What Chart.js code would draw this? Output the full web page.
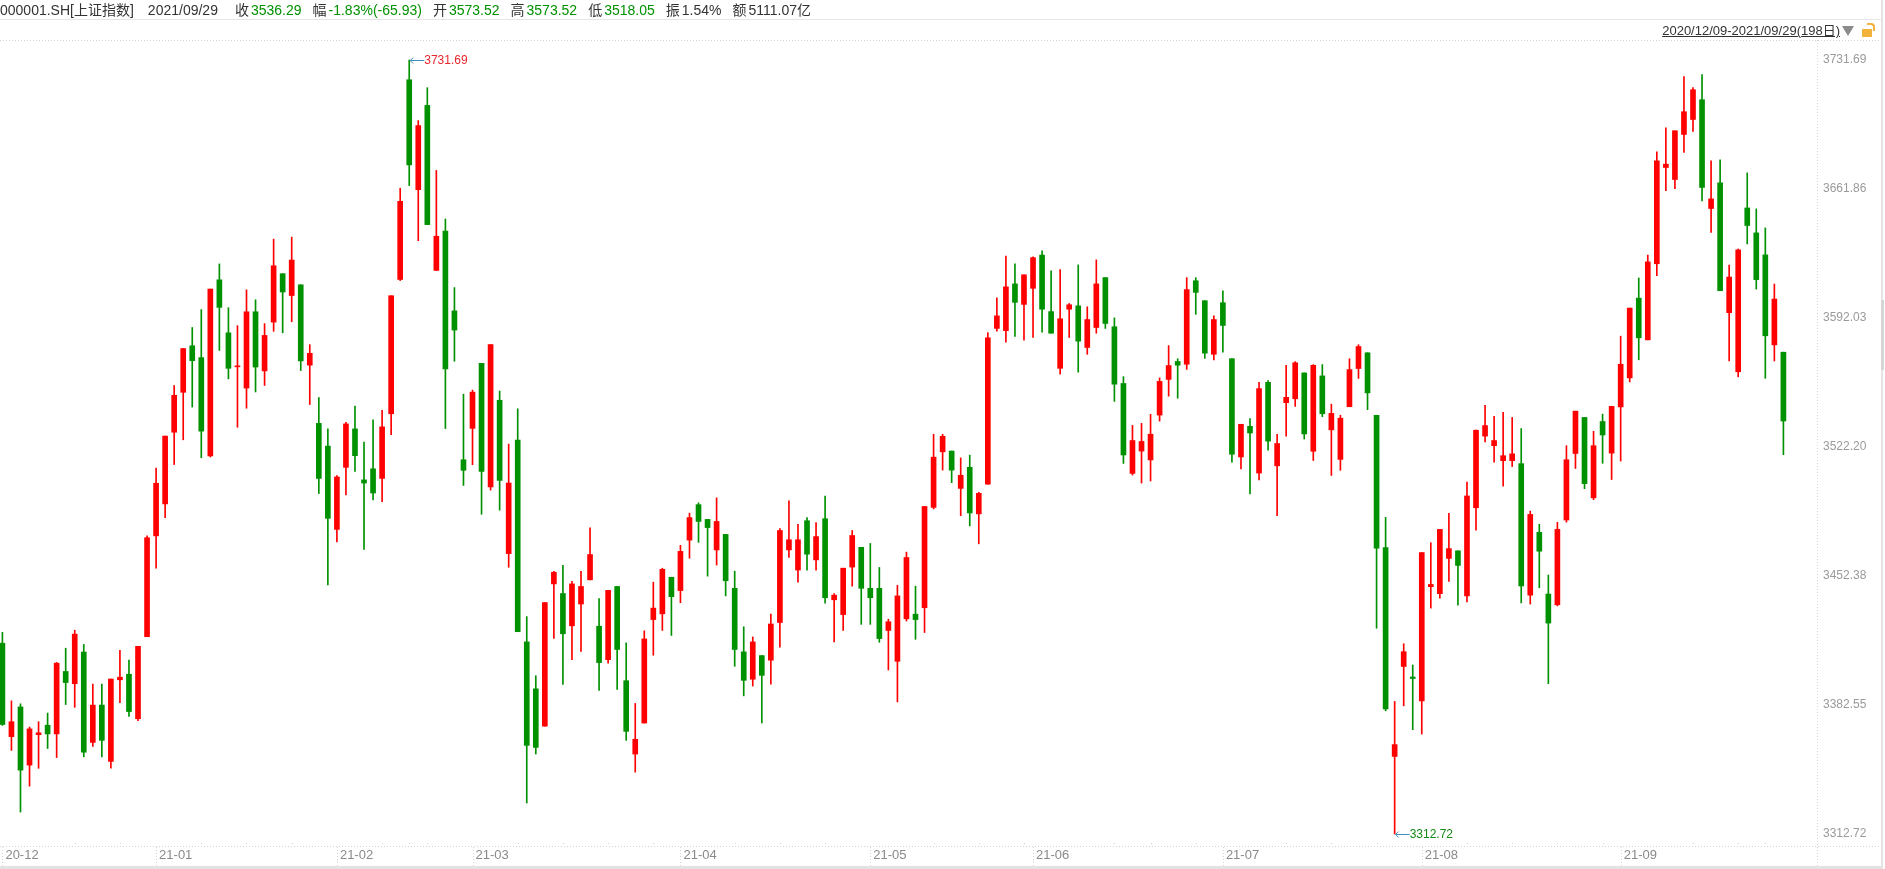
<!DOCTYPE html>
<html>
<head>
<meta charset="utf-8">
<title>000001.SH 上证指数</title>
<script src="https://cdn.jsdelivr.net/npm/chart.js@4/dist/chart.umd.min.js"></script>
<style>
  html, body { margin: 0; padding: 0; background: #fff; overflow: hidden; }
  body { width: 1885px; height: 869px; position: relative; font-family: "Liberation Sans", Arial, "Noto Sans CJK SC", sans-serif; }
  #kline { position: absolute; left: 0; top: 0; }
  .header { position: absolute; left: 0; top: 0; width: 1881px; height: 19px; border-bottom: 1px solid #e6e6e6; font-size: 14px; line-height: 20px; color: #333; white-space: nowrap; }
  .header span { display: inline-block; }
  .header .lab { margin-right: 2px; }
  .header .val { margin-right: 11px; }
  .header .down { color: #009100; }
  .range { position: absolute; right: 45px; top: 24px; font-size: 13px; line-height: 14px; color: #333; text-decoration: underline; white-space: nowrap; }
  .tri { position: absolute; left: 1842px; top: 26px; width: 0; height: 0; border-left: 6.5px solid transparent; border-right: 6.5px solid transparent; border-top: 10px solid #8c8c8c; }
  .lock { position: absolute; left: 1862px; top: 29px; width: 10px; height: 8px; background: #f2b33d; }
  .shackle { position: absolute; left: 1867px; top: 23px; width: 6px; height: 6px; border: 2px solid #f2b33d; border-bottom: none; border-left: none; border-radius: 0 4px 0 0; }
  .edge { position: absolute; left: 1881px; top: 0; width: 2px; height: 869px; background: #e4e4e4; }
  .thumb { position: absolute; left: 1881px; top: 300px; width: 3px; height: 70px; background: #d6d6d6; }
</style>
</head>
<body>
<canvas id="kline" width="1885" height="869"></canvas>
<div class="header">
  <span style="margin-right:14px">000001.SH[上证指数]</span><span style="margin-right:17px">2021/09/29</span><span class="lab">收</span><span class="val down">3536.29</span><span class="lab">幅</span><span class="val down">-1.83%(-65.93)</span><span class="lab">开</span><span class="val down">3573.52</span><span class="lab">高</span><span class="val down">3573.52</span><span class="lab">低</span><span class="val down">3518.05</span><span class="lab">振</span><span class="val">1.54%</span><span class="lab">额</span><span class="val">5111.07亿</span>
</div>
<div class="range">2020/12/09-2021/09/29(198日)</div>
<div class="tri"></div>
<div class="shackle"></div>
<div class="lock"></div>
<div class="edge"></div>
<div class="thumb"></div>
<script>
// trading days, 2020/12/09 - 2021/09/29
const dates = [
  '2020-12-09','2020-12-10','2020-12-11','2020-12-14','2020-12-15','2020-12-16','2020-12-17','2020-12-18','2020-12-21','2020-12-22',
  '2020-12-23','2020-12-24','2020-12-25','2020-12-28','2020-12-29','2020-12-30','2020-12-31','2021-01-04','2021-01-05','2021-01-06',
  '2021-01-07','2021-01-08','2021-01-11','2021-01-12','2021-01-13','2021-01-14','2021-01-15','2021-01-18','2021-01-19','2021-01-20',
  '2021-01-21','2021-01-22','2021-01-25','2021-01-26','2021-01-27','2021-01-28','2021-01-29','2021-02-01','2021-02-02','2021-02-03',
  '2021-02-04','2021-02-05','2021-02-08','2021-02-09','2021-02-10','2021-02-18','2021-02-19','2021-02-22','2021-02-23','2021-02-24',
  '2021-02-25','2021-02-26','2021-03-01','2021-03-02','2021-03-03','2021-03-04','2021-03-05','2021-03-08','2021-03-09','2021-03-10',
  '2021-03-11','2021-03-12','2021-03-15','2021-03-16','2021-03-17','2021-03-18','2021-03-19','2021-03-22','2021-03-23','2021-03-24',
  '2021-03-25','2021-03-26','2021-03-29','2021-03-30','2021-03-31','2021-04-01','2021-04-02','2021-04-06','2021-04-07','2021-04-08',
  '2021-04-09','2021-04-12','2021-04-13','2021-04-14','2021-04-15','2021-04-16','2021-04-19','2021-04-20','2021-04-21','2021-04-22',
  '2021-04-23','2021-04-26','2021-04-27','2021-04-28','2021-04-29','2021-04-30','2021-05-06','2021-05-07','2021-05-10','2021-05-11',
  '2021-05-12','2021-05-13','2021-05-14','2021-05-17','2021-05-18','2021-05-19','2021-05-20','2021-05-21','2021-05-24','2021-05-25',
  '2021-05-26','2021-05-27','2021-05-28','2021-05-31','2021-06-01','2021-06-02','2021-06-03','2021-06-04','2021-06-07','2021-06-08',
  '2021-06-09','2021-06-10','2021-06-11','2021-06-15','2021-06-16','2021-06-17','2021-06-18','2021-06-21','2021-06-22','2021-06-23',
  '2021-06-24','2021-06-25','2021-06-28','2021-06-29','2021-06-30','2021-07-01','2021-07-02','2021-07-05','2021-07-06','2021-07-07',
  '2021-07-08','2021-07-09','2021-07-12','2021-07-13','2021-07-14','2021-07-15','2021-07-16','2021-07-19','2021-07-20','2021-07-21',
  '2021-07-22','2021-07-23','2021-07-26','2021-07-27','2021-07-28','2021-07-29','2021-07-30','2021-08-02','2021-08-03','2021-08-04',
  '2021-08-05','2021-08-06','2021-08-09','2021-08-10','2021-08-11','2021-08-12','2021-08-13','2021-08-16','2021-08-17','2021-08-18',
  '2021-08-19','2021-08-20','2021-08-23','2021-08-24','2021-08-25','2021-08-26','2021-08-27','2021-08-30','2021-08-31','2021-09-01',
  '2021-09-02','2021-09-03','2021-09-06','2021-09-07','2021-09-08','2021-09-09','2021-09-10','2021-09-13','2021-09-14','2021-09-15',
  '2021-09-16','2021-09-17','2021-09-22','2021-09-23','2021-09-24','2021-09-27','2021-09-28','2021-09-29'
];

const opens = [
  3416.0, 3365.4, 3381.5, 3350.0, 3366.5, 3371.6, 3366.9, 3400.7, 3394.1, 3411.2,
  3362.3, 3382.5, 3352.0, 3396.2, 3399.2, 3375.1, 3419.5, 3474.1, 3491.4, 3530.2,
  3551.8, 3577.0, 3570.6, 3517.4, 3612.7, 3584.0, 3565.6, 3554.1, 3595.4, 3563.4,
  3589.8, 3616.0, 3604.2, 3610.0, 3566.5, 3535.0, 3522.7, 3477.6, 3511.2, 3532.0,
  3504.4, 3510.4, 3505.2, 3540.2, 3612.9, 3721.0, 3661.5, 3707.1, 3617.8, 3639.1,
  3595.9, 3515.3, 3532.3, 3567.5, 3500.6, 3547.5, 3464.5, 3526.0, 3416.7, 3391.3,
  3371.1, 3448.1, 3442.9, 3425.4, 3437.2, 3450.3, 3425.2, 3407.1, 3446.7, 3395.7,
  3356.0, 3372.8, 3428.8, 3431.9, 3451.7, 3444.5, 3471.8, 3491.0, 3483.0, 3466.5,
  3474.9, 3445.7, 3411.3, 3396.5, 3409.3, 3406.8, 3427.2, 3466.5, 3455.6, 3482.3,
  3461.1, 3483.4, 3439.5, 3431.5, 3457.2, 3467.9, 3445.7, 3445.7, 3422.9, 3406.2,
  3429.2, 3431.7, 3435.2, 3489.5, 3519.6, 3520.0, 3499.8, 3511.2, 3486.0, 3502.1,
  3586.4, 3585.2, 3610.5, 3599.4, 3608.1, 3626.1, 3595.5, 3564.8, 3596.8, 3598.6,
  3576.1, 3586.9, 3613.9, 3587.3, 3556.6, 3507.9, 3520.0, 3515.2, 3539.5, 3558.8,
  3568.5, 3567.0, 3612.2, 3601.4, 3572.4, 3600.3, 3570.0, 3516.8, 3533.4, 3508.1,
  3557.2, 3512.0, 3546.2, 3548.3, 3562.3, 3519.9, 3560.7, 3531.5, 3515.5, 3544.0,
  3564.7, 3573.2, 3539.4, 3467.8, 3354.7, 3403.4, 3397.7, 3384.7, 3446.6, 3442.8,
  3461.9, 3466.0, 3441.6, 3489.3, 3528.1, 3522.9, 3514.8, 3514.8, 3513.2, 3442.0,
  3476.0, 3442.6, 3436.8, 3482.7, 3518.7, 3538.2, 3494.7, 3536.0, 3518.9, 3543.9,
  3559.6, 3602.8, 3580.2, 3621.4, 3673.5, 3667.0, 3691.4, 3699.5, 3710.2, 3651.3,
  3665.2, 3594.9, 3562.9, 3651.6, 3638.1, 3626.2, 3577.5, 3573.52
];

const highs = [
  3421.9, 3384.8, 3383.2, 3370.6, 3373.5, 3378.2, 3405.6, 3413.3, 3423.0, 3415.3,
  3393.9, 3393.9, 3396.6, 3412.2, 3406.9, 3414.3, 3474.1, 3510.8, 3528.1, 3555.5,
  3575.5, 3586.9, 3596.6, 3607.7, 3621.3, 3597.6, 3587.9, 3607.3, 3601.9, 3589.0,
  3634.7, 3616.0, 3635.8, 3610.0, 3577.6, 3549.0, 3532.0, 3506.8, 3535.5, 3544.3,
  3524.9, 3536.9, 3542.1, 3604.1, 3662.3, 3731.69, 3698.9, 3716.7, 3671.9, 3645.6,
  3608.5, 3550.8, 3553.0, 3567.5, 3577.6, 3552.5, 3523.8, 3542.9, 3430.4, 3398.4,
  3438.0, 3454.9, 3458.2, 3449.5, 3454.9, 3478.4, 3440.2, 3444.6, 3446.7, 3416.2,
  3383.4, 3422.7, 3449.0, 3456.6, 3451.7, 3469.0, 3486.4, 3492.0, 3483.0, 3494.7,
  3474.9, 3455.0, 3424.9, 3419.4, 3409.3, 3431.7, 3478.0, 3493.0, 3480.3, 3484.0,
  3481.3, 3495.7, 3442.8, 3456.6, 3477.0, 3467.9, 3470.0, 3457.0, 3429.0, 3447.3,
  3465.3, 3446.9, 3490.0, 3529.1, 3529.1, 3520.0, 3516.3, 3517.8, 3497.7, 3584.1,
  3602.9, 3625.6, 3621.3, 3615.4, 3625.2, 3628.4, 3617.6, 3618.2, 3599.9, 3620.8,
  3598.1, 3623.5, 3613.9, 3592.1, 3560.3, 3533.9, 3535.0, 3539.9, 3559.6, 3577.1,
  3570.0, 3613.9, 3613.9, 3601.4, 3593.2, 3606.8, 3570.0, 3534.5, 3537.6, 3557.2,
  3558.1, 3529.1, 3566.4, 3568.4, 3562.3, 3566.8, 3566.8, 3545.4, 3539.4, 3570.0,
  3577.6, 3573.2, 3539.4, 3484.1, 3384.5, 3415.7, 3404.2, 3465.0, 3470.4, 3477.6,
  3486.3, 3466.0, 3503.2, 3531.3, 3544.8, 3538.8, 3541.0, 3538.2, 3532.2, 3487.5,
  3480.4, 3452.9, 3481.4, 3522.9, 3541.6, 3538.2, 3530.7, 3540.0, 3544.2, 3582.2,
  3597.4, 3613.7, 3626.1, 3682.0, 3695.0, 3693.4, 3722.7, 3716.7, 3723.8, 3677.1,
  3677.7, 3620.7, 3629.4, 3670.6, 3651.1, 3640.8, 3610.4, 3573.52
];

const lows = [
  3371.5, 3358.0, 3324.6, 3338.6, 3348.3, 3359.0, 3354.1, 3382.8, 3381.3, 3354.5,
  3360.1, 3354.5, 3348.3, 3383.8, 3376.4, 3374.1, 3419.5, 3456.6, 3484.0, 3512.7,
  3526.1, 3543.8, 3516.4, 3516.8, 3574.5, 3559.1, 3532.9, 3543.2, 3552.0, 3555.5,
  3584.8, 3584.0, 3590.0, 3563.6, 3545.2, 3497.0, 3447.6, 3470.8, 3496.2, 3509.0,
  3466.7, 3493.5, 3492.6, 3528.9, 3612.3, 3663.7, 3633.9, 3642.6, 3617.8, 3532.2,
  3568.6, 3501.4, 3512.6, 3485.8, 3498.9, 3488.0, 3457.1, 3422.2, 3329.5, 3356.0,
  3371.1, 3418.6, 3393.7, 3407.1, 3411.5, 3450.3, 3390.5, 3405.2, 3391.0, 3363.4,
  3346.2, 3372.8, 3409.5, 3422.9, 3420.2, 3437.9, 3462.0, 3470.6, 3452.3, 3458.3,
  3441.6, 3403.5, 3387.5, 3392.8, 3372.8, 3393.8, 3413.8, 3462.4, 3449.0, 3455.6,
  3455.6, 3437.7, 3416.7, 3422.9, 3446.9, 3426.2, 3426.2, 3416.5, 3401.5, 3384.2,
  3428.0, 3418.1, 3421.8, 3488.7, 3509.7, 3502.9, 3485.0, 3479.5, 3469.8, 3502.1,
  3584.9, 3578.9, 3582.1, 3580.0, 3581.5, 3584.3, 3583.8, 3561.6, 3581.5, 3562.7,
  3572.4, 3583.8, 3586.4, 3546.9, 3513.3, 3507.0, 3502.7, 3503.8, 3536.2, 3549.7,
  3548.6, 3564.2, 3594.0, 3570.2, 3569.3, 3573.5, 3514.0, 3510.3, 3496.8, 3504.4,
  3520.5, 3485.0, 3528.1, 3544.2, 3526.5, 3514.9, 3538.6, 3506.8, 3509.6, 3544.0,
  3559.3, 3542.4, 3424.1, 3379.4, 3312.72, 3382.1, 3369.2, 3366.8, 3435.0, 3440.4,
  3449.4, 3436.6, 3438.4, 3477.2, 3524.9, 3514.0, 3501.0, 3511.6, 3437.8, 3437.2,
  3446.0, 3394.1, 3436.2, 3481.5, 3510.6, 3499.6, 3493.7, 3513.4, 3504.6, 3514.6,
  3557.4, 3569.4, 3580.2, 3614.9, 3661.0, 3662.1, 3681.7, 3693.0, 3655.4, 3638.3,
  3606.8, 3568.8, 3560.2, 3632.1, 3607.7, 3559.4, 3568.8, 3518.05
];

const closes = [
  3372.0, 3373.5, 3347.3, 3369.6, 3367.5, 3366.9, 3405.2, 3394.7, 3420.9, 3357.0,
  3382.5, 3363.4, 3396.6, 3397.6, 3379.0, 3414.3, 3473.1, 3502.6, 3528.1, 3550.2,
  3575.5, 3568.9, 3530.8, 3607.7, 3597.8, 3564.8, 3565.9, 3595.4, 3565.5, 3582.6,
  3620.3, 3606.1, 3623.4, 3568.8, 3572.9, 3505.2, 3483.6, 3506.0, 3534.7, 3517.5,
  3502.7, 3497.3, 3533.1, 3604.1, 3655.2, 3674.9, 3696.2, 3642.6, 3636.3, 3564.5,
  3585.5, 3509.6, 3551.9, 3509.0, 3577.6, 3504.1, 3502.7, 3422.2, 3360.7, 3359.6,
  3438.0, 3454.4, 3421.1, 3448.1, 3446.7, 3464.0, 3405.5, 3444.6, 3412.6, 3368.3,
  3364.0, 3418.3, 3435.0, 3456.0, 3441.2, 3465.7, 3484.0, 3481.9, 3478.6, 3481.9,
  3449.8, 3412.6, 3395.9, 3416.7, 3398.6, 3426.4, 3477.0, 3472.0, 3472.0, 3464.2,
  3473.7, 3440.6, 3442.0, 3456.6, 3474.3, 3445.7, 3440.6, 3418.5, 3427.6, 3441.6,
  3462.4, 3428.8, 3490.0, 3516.7, 3528.0, 3509.7, 3506.9, 3486.5, 3497.1, 3581.3,
  3593.2, 3608.9, 3600.5, 3615.4, 3624.7, 3596.8, 3583.8, 3591.6, 3599.2, 3579.5,
  3591.2, 3610.5, 3589.1, 3556.2, 3517.9, 3525.7, 3525.2, 3529.1, 3557.7, 3566.3,
  3566.5, 3607.4, 3605.9, 3573.0, 3591.2, 3588.0, 3518.3, 3534.5, 3529.8, 3553.8,
  3525.4, 3524.1, 3549.1, 3567.8, 3529.3, 3566.4, 3540.2, 3540.4, 3537.8, 3564.1,
  3576.6, 3551.5, 3467.4, 3380.4, 3361.1, 3411.4, 3396.9, 3465.0, 3447.8, 3477.6,
  3467.2, 3458.1, 3495.7, 3531.3, 3533.8, 3525.7, 3517.5, 3518.5, 3447.0, 3485.7,
  3465.8, 3426.9, 3477.6, 3515.3, 3541.6, 3502.4, 3522.9, 3528.7, 3544.2, 3567.0,
  3597.4, 3581.3, 3622.4, 3677.1, 3675.3, 3693.4, 3703.7, 3715.6, 3662.7, 3656.5,
  3606.8, 3614.2, 3628.9, 3642.1, 3612.8, 3582.4, 3602.3, 3536.29
];

// right axis labels
const yTicks = [3312.72, 3382.55, 3452.38, 3522.20, 3592.03, 3661.86, 3731.69];

const UP = '#ff0000';
const DOWN = '#009100';
const FONT = '"Liberation Sans", Arial, sans-serif';

function candleColor(ctx) {
  const i = ctx.dataIndex;
  return closes[i] >= opens[i] ? UP : DOWN;
}

// first trading day of each month -> "YY-MM" label
function monthStart(i) {
  return i === 0 || dates[i].slice(0, 7) !== dates[i - 1].slice(0, 7);
}
function weekStart(i) {
  if (i === 0) return false;
  const a = new Date(dates[i - 1] + 'T00:00:00');
  const b = new Date(dates[i] + 'T00:00:00');
  return b.getDay() <= a.getDay() || (b - a) >= 7 * 86400000;
}

// frame lines, month separators and the high/low markers
const decorations = {
  id: 'decorations',
  afterDraw(chart) {
    const c = chart.ctx;
    const xs = chart.scales.x;
    const ys = chart.scales.y;
    c.save();
    c.strokeStyle = '#d4d4d4';
    c.lineWidth = 1;
    c.setLineDash([1, 2]);
    c.beginPath();
    c.moveTo(0, 40.5); c.lineTo(1881, 40.5);
    c.moveTo(1817.5, 40); c.lineTo(1817.5, 869);
    c.moveTo(0, 846.5); c.lineTo(1881, 846.5);
    let lastMonthX = -100;
    dates.forEach((d, i) => {
      const x = Math.round(xs.getPixelForValue(i)) + 0.5;
      if (monthStart(i)) {
        c.moveTo(x, 847); c.lineTo(x, 867);
        lastMonthX = x;
      } else if (weekStart(i) && x - lastMonthX > 40) {
        c.moveTo(x, 843); c.lineTo(x, 846);
      }
    });
    c.stroke();
    c.setLineDash([]);
    c.fillStyle = '#e2e2e2';
    c.fillRect(0, 866, 1881, 3);

    // highest high and lowest low
    let hi = 0, lo = 0;
    highs.forEach((v, i) => { if (v > highs[hi]) hi = i; });
    lows.forEach((v, i) => { if (v < lows[lo]) lo = i; });
    const marks = [
      { i: hi, v: highs[hi], color: '#e8262d' },
      { i: lo, v: lows[lo], color: '#138a13' }
    ];
    c.font = '12px ' + FONT;
    c.textBaseline = 'middle';
    c.textAlign = 'left';
    marks.forEach(m => {
      const x = xs.getPixelForValue(m.i);
      const y = Math.round(ys.getPixelForValue(m.v)) + 0.5;
      c.strokeStyle = '#3d8fbf';
      c.beginPath();
      c.moveTo(x + 1, y); c.lineTo(x + 15, y);
      c.moveTo(x + 4, y - 3); c.lineTo(x + 1, y); c.lineTo(x + 4, y + 3);
      c.stroke();
      c.fillStyle = m.color;
      c.fillText(m.v.toFixed(2), x + 15, y);
    });
    c.restore();
  }
};

const ctx = document.getElementById('kline').getContext('2d');
const chart = new Chart(ctx, {
  type: 'bar',
  data: {
    labels: dates,
    datasets: [
      {
        label: 'body',
        data: dates.map((d, i) => [opens[i], closes[i]]),
        backgroundColor: candleColor,
        barThickness: 5,
        minBarLength: 1,
        grouped: false,
        borderSkipped: false,
        clip: false,
        order: 1
      },
      {
        label: 'wick',
        data: dates.map((d, i) => [lows[i], highs[i]]),
        backgroundColor: candleColor,
        barThickness: 1,
        grouped: false,
        borderSkipped: false,
        clip: false,
        order: 2
      }
    ]
  },
  options: {
    responsive: false,
    animation: false,
    devicePixelRatio: 1,
    layout: { padding: { left: 2.4, top: 60, right: 0, bottom: 0 } },
    plugins: {
      legend: { display: false },
      tooltip: { enabled: false }
    },
    scales: {
      x: {
        offset: false,
        // tickLength only pushes the labels down, marks themselves are hidden
        grid: { display: false, drawTicks: true, tickLength: 14 },
        border: { display: false },
        ticks: {
          autoSkip: false,
          maxRotation: 0,
          align: 'start',
          labelOffset: 3,
          padding: 0,
          color: '#8a8a8a',
          font: { family: FONT, size: 13 },
          callback: function (value, index) {
            if (!monthStart(index)) return '';
            return dates[index].slice(2, 7);
          }
        },
        afterFit: function (scale) { scale.height = 35; }
      },
      y: {
        position: 'right',
        min: yTicks[0],
        max: yTicks[yTicks.length - 1],
        afterBuildTicks: function (scale) {
          scale.ticks = yTicks.map(v => ({ value: v }));
        },
        afterFit: function (scale) { scale.width = 101.6; },
        grid: { display: false, drawTicks: true, tickLength: 39.6 },
        border: { display: false },
        ticks: {
          padding: 0,
          color: '#9a9a9a',
          font: { family: FONT, size: 12 },
          callback: function (value) { return Number(value).toFixed(2); }
        }
      }
    }
  },
  plugins: [decorations]
});
</script>
</body>
</html>
